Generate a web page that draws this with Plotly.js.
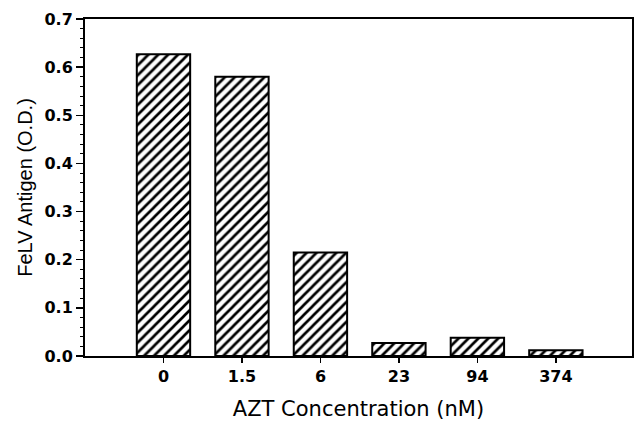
<!DOCTYPE html>
<html><head><meta charset="utf-8">
<script src="https://cdn.plot.ly/plotly-3.0.1.min.js"></script>
<style>html,body{margin:0;padding:0;background:#fff}</style>
</head><body>
<div id="chart" style="width:634px;height:421px"></div>
<script>
const categories = ["0", "1.5", "6", "23", "94", "374"];
const antigenOD = [0.627, 0.580, 0.215, 0.027, 0.038, 0.012];
const yTickVals = [0.0, 0.1, 0.2, 0.3, 0.4, 0.5, 0.6, 0.7];
const yTickText = ["0.0", "0.1", "0.2", "0.3", "0.4", "0.5", "0.6", "0.7"];

const trace = {
  type: "bar",
  x: categories,
  y: antigenOD,
  width: 0.68,
  marker: {
    color: "#ffffff",
    line: {color: "#000", width: 2},
    pattern: {shape: "/", fgcolor: "#000", bgcolor: "#fff", size: 7, solidity: 0.38, fillmode: "replace"}
  },
  hoverinfo: "skip"
};

const layout = {
  width: 634, height: 421,
  margin: {l: 85, r: 2, t: 19, b: 65, pad: 0},
  paper_bgcolor: "#fff", plot_bgcolor: "#fff",
  showlegend: false,
  font: {family: "DejaVu Sans, sans-serif", color: "#000"},
  xaxis: {
    type: "category",
    range: [-1.0, 5.97],
    showgrid: false, zeroline: false,
    showline: true, linecolor: "#000", linewidth: 2, mirror: true,
    ticks: "outside", ticklen: 5, tickwidth: 1.5, tickcolor: "#000",
    tickfont: {size: 16, family: "DejaVu Sans, sans-serif", weight: "bold"},
    title: {text: "AZT Concentration (nM)", font: {size: 21, family: "DejaVu Sans, sans-serif"}, standoff: 16}
  },
  yaxis: {
    range: [0, 0.7],
    tickvals: yTickVals, ticktext: yTickText,
    showgrid: false, zeroline: false,
    showline: true, linecolor: "#000", linewidth: 2, mirror: true,
    ticks: "outside", ticklen: 7, tickwidth: 1.5, tickcolor: "#000",
    minor: {dtick: 0.02, ticks: "outside", ticklen: 3, tickwidth: 1, tickcolor: "#000"},
    tickfont: {size: 16, family: "DejaVu Sans, sans-serif", weight: "bold"},
    title: {text: "FeLV Antigen (O.D.)", font: {size: 20, family: "Liberation Sans, Arial, sans-serif"}, standoff: 6}
  }
};

Plotly.newPlot("chart", [trace], layout, {displayModeBar: false, staticPlot: true});
</script>
</body></html>
